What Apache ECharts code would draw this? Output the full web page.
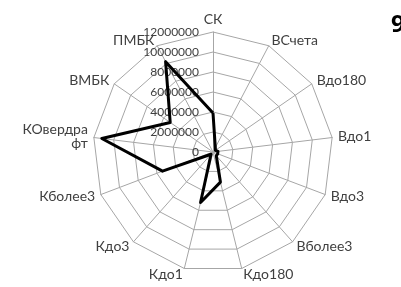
<!DOCTYPE html>
<html>
<head>
<meta charset="utf-8">
<script src="https://cdn.jsdelivr.net/npm/echarts@6/dist/echarts.min.js"></script>
<style>
  html, body { margin: 0; padding: 0; background: #fff; }
  #main { width: 401px; height: 287px; }
</style>
</head>
<body>
<div id="main"></div>
<script>
// категории (по часовой стрелке, начиная сверху)
var categories = ['СК', 'ВСчета', 'Вдо180', 'Вдо1', 'Вдо3', 'Вболее3', 'Кдо180',
  'Кдо1', 'Кдо3', 'Кболее3', 'КОвердрафт', 'ВМБК', 'ПМБК'];
// значения
var values = [3900000, 500000, 300000, 500000, 500000, 500000, 3100000,
  5200000, 300000, 5400000, 11200000, 5200000, 10200000];
var axisMax = 12000000;
var splitCount = 6;

// echarts рисует индикаторы против часовой — переворачиваем порядок
function clockwise(arr) {
  return [arr[0]].concat(arr.slice(1).reverse());
}

var labelFont = 'Lato, "Open Sans", sans-serif';
var myChart = echarts.init(document.getElementById('main'));

var indicators = clockwise(categories).map(function (name, i) {
  var ind = { name: name, min: 0, max: axisMax };
  if (i === 0) {
    ind.axisLabel = { show: true };
  }
  return ind;
});

var option = {
  animation: false,
  title: {
    text: '9',
    left: 386,
    top: 8,
    textStyle: { fontSize: 24, fontWeight: 'bold', color: '#000', fontFamily: '"Open Sans", sans-serif' }
  },
  radar: {
    center: [213, 152],
    radius: 120,
    startAngle: 90,
    shape: 'polygon',
    splitNumber: splitCount,
    indicator: indicators,
    axisName: {
      color: '#404040',
      fontSize: 14,
      fontFamily: labelFont,
      formatter: function (name) {
        // как в excel, длинное название переносится
        return name === 'КОвердрафт' ? 'КОвердра\nфт' : name;
      }
    },
    nameGap: 6,
    axisLine: { lineStyle: { color: '#a6a6a6', width: 1 } },
    splitLine: { lineStyle: { color: '#a6a6a6', width: 1 } },
    splitArea: { show: false },
    axisTick: { show: false },
    axisLabel: {
      show: false,
      color: '#404040',
      fontSize: 12,
      fontFamily: labelFont,
      margin: 14,
      formatter: function (v) { return String(v); }
    }
  },
  series: [{
    type: 'radar',
    symbol: 'none',
    lineStyle: { color: '#000', width: 3 },
    data: [{ value: clockwise(values) }]
  }]
};

myChart.setOption(option);
</script>
</body>
</html>
